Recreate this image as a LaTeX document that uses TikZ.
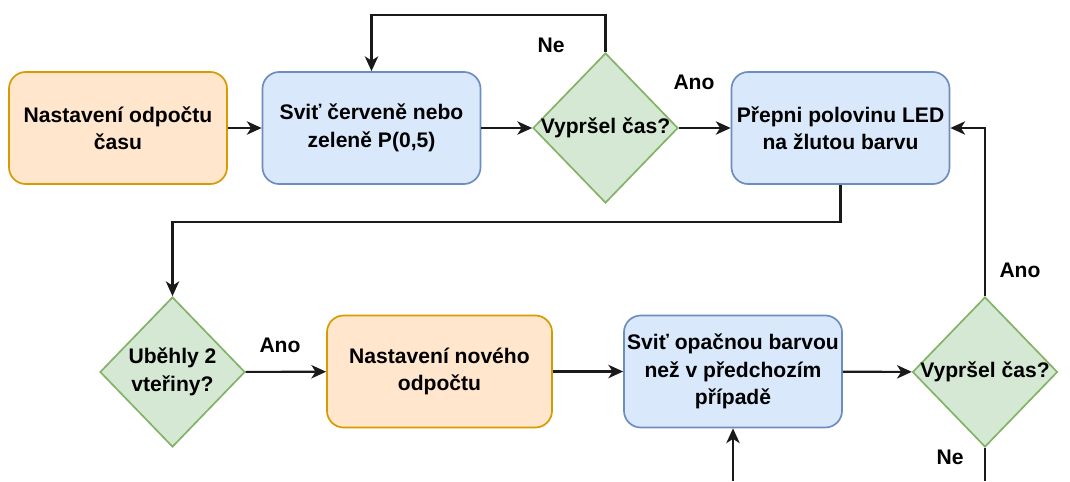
\documentclass[tikz,border=0pt]{standalone}
\usepackage{fontspec}
\setmainfont{Liberation Sans}
\usepackage{tikz}
\usetikzlibrary{shapes,arrows,positioning,calc,arrows.meta}
\definecolor{orangefill}{HTML}{FFE6CC}
\definecolor{orangeline}{HTML}{D79B00}
\definecolor{bluefill}{HTML}{DAE8FC}
\definecolor{blueline}{HTML}{6C8EBF}
\definecolor{greenfill}{HTML}{D5E8D4}
\definecolor{greenline}{HTML}{82B366}
\definecolor{linecolor}{HTML}{1A1A1A}

\begin{document}
\begin{tikzpicture}[x=0.025cm, y=-0.025cm,
    every node/.style={font=\bfseries\fontsize{15}{19.5}\selectfont, align=center},
    startbox/.style={draw=orangeline, fill=orangefill, line width=1.2pt, rounded corners=0.42cm,
        minimum width=5.45cm, minimum height=2.8cm, inner sep=0pt},
    actbox/.style={draw=blueline, fill=bluefill, line width=1.2pt, rounded corners=0.42cm,
        minimum width=5.45cm, minimum height=2.8cm, inner sep=0pt},
    decision/.style={diamond, draw=greenline, fill=greenfill, line width=1.2pt,
        minimum width=3.625cm, minimum height=3.75cm, inner sep=0pt},
    conn/.style={draw=linecolor, line width=1.5pt, -{Stealth[length=10.5pt, width=9.5pt, inset=3pt]}},
    plain/.style={draw=linecolor, line width=1.5pt}]

    \useasboundingbox (0,0) rectangle (1070,481);

    % Top row
    \node [startbox] (start) at (118,128) {Nastavení odpočtu\\času};
    \node [actbox] (glow) at (371.5,128) {Sviť červeně nebo\\zeleně P(0,5)};
    \node [decision, label={center:Vypršel čas?}] (timeup) at (605.5,128) {};
    \node [actbox] (half) at (840.5,128) {Přepni polovinu LED\\na žlutou barvu};

    % Bottom row
    \node [decision, label={center:Uběhly 2\\vteřiny?}] (twosec) at (172.5,372) {};
    \node [startbox, minimum width=5.625cm] (newcount) at (439.5,371.5) {Nastavení nového\\odpočtu};
    \node [actbox] (other) at (733,371.5) {Sviť opačnou barvou\\než v předchozím\\případě};
    \node [decision, label={center:Vypršel čas?}] (timeup2) at (985,372) {};

    % Free ends at the bottom edge
    \coordinate (incoming) at (733,481);
    \coordinate (outgoing) at (985,481);

    % Connectors
    \draw [conn] (start) -- (glow);
    \draw [conn] (glow) -- (timeup);
    \draw [conn] (timeup) -- (half);
    \draw [conn] (timeup.north) -- ++(0,-37) -| (glow.north);
    \draw [conn] (half.south) -- ++(0,37) -| (twosec.north);
    \draw [conn] (twosec) -- (newcount);
    \draw [conn] (newcount) -- (other);
    \draw [conn] (other) -- (timeup2);
    \draw [conn] (timeup2.north) |- (half.east);
    \draw [conn] (incoming) -- (other.south);
    \draw [plain] (timeup2.south) -- (outgoing);

    % Edge labels
    \node (noA) at (551,45) {Ne};
    \node (yesA) at (694,82) {Ano};
    \node (yesB) at (280,345) {Ano};
    \node (yesC) at (1020,270) {Ano};
    \node (noC) at (950,457) {Ne};

\end{tikzpicture}
\end{document}
